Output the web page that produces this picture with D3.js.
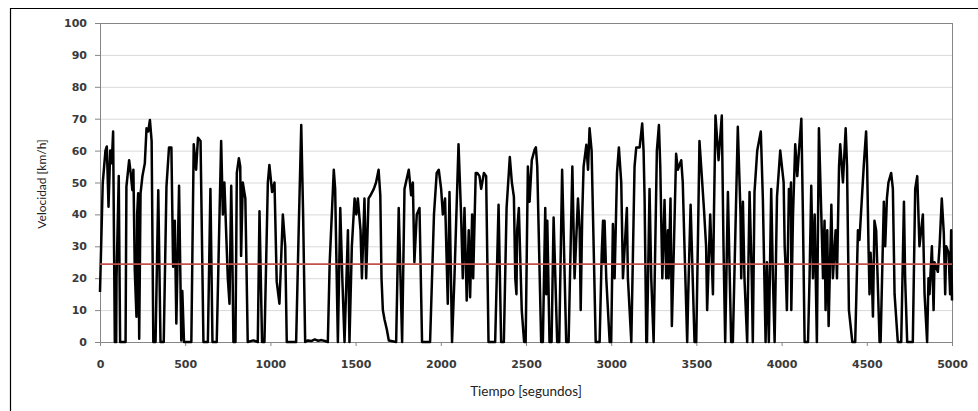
<!DOCTYPE html>
<html>
<head>
<meta charset="utf-8">
<script src="https://cdn.jsdelivr.net/npm/d3@7"></script>
<style>
  body { margin: 0; background: #fff; }
  svg { display: block; }
</style>
</head>
<body>
<div id="chart"></div>
<script>
// datos
const tiempo = [
  0,16,32,40,50,60,69,77,87,95,97,110,118,150,155,171,180,190,196,204,214,218,224,230,238,249,263,273,283,293,303,313,326,342,355,374,390,405,419,429,439,448,464,477,483,493,536,
  550,564,575,590,607,633,648,660,685,711,721,730,740,750,760,770,776,783,795,803,815,823,828,838,853,867,900,926,936,951,965,985,994,1010,1024,1037,1053,1073,1087,1096,
  1151,1166,1181,1192,1204,1220,1240,1260,1280,1300,1320,1337,1348,1372,1380,1396,1410,1422,1435,1455,1464,1478,1494,1504,1513,1529,1537,1552,1562,1576,1588,1607,1620,1635,
  1645,1652,1660,1670,1683,1695,1738,1753,1773,1787,1812,1826,1836,1845,1859,1875,1890,1937,1960,1976,1988,2002,2012,2025,2041,2051,2066,2080,2104,2119,2129,2139,2152,2164,2172,2184,2190,
  2205,2214,2227,2237,2253,2266,2280,2319,2339,2354,2370,2386,2405,2417,2429,2437,2444,2448,2458,2475,2489,2498,2511,2521,2534,2550,2558,2566,2589,2599,2613,2619,2625,2638,2650,2662,2683,2695,2712,2736,2750,
  2772,2785,2805,2815,2821,2830,2838,2854,2864,2873,2885,2909,2932,2944,2952,2957,2961,2971,2991,3000,3010,3020,3034,3045,3059,3069,3092,3098,3118,3137,3147,3167,3182,3190,3196,3206,3210,3225,3235,3249,3268,3280,3288,3300,
  3313,3323,3333,3337,3348,3356,3368,3381,3391,3411,3420,3430,3446,3452,3466,3489,3499,3509,3518,3528,3544,3557,3563,3581,3597,3603,3612,3630,3649,3659,3669,3685,3704,3714,3743,3759,3763,3773,3782,3798,3812,3825,3831,3841,3857,3878,
  3890,3906,3914,3925,3939,3949,3959,3973,3992,4008,4012,4018,4024,4031,4043,4050,4055,4057,4067,4080,4092,4102,4116,4125,4135,4155,4164,4174,4184,4194,4207,4219,4233,4243,4252,4258,4268,4276,4292,4301,4317,4325,4337,4344,4360,4376,4384,4395,4415,4432,
  4448,4457,4483,4496,4502,4510,4516,4522,4530,4536,4545,4555,4575,4581,4600,4608,4618,4627,4643,4653,4663,4682,4702,4718,4725,4737,4770,4784,4796,4809,4829,4839,4854,4862,4868,4882,4892,4897,4917,4927,4940,4952,4960,4966,4980,4989,4995,5000
];
const velocidad = [
  15.7,49.7,60,61.3,42.4,60,56,66,0,0,20,52,0,0,48.7,57,53,47.6,54,22.5,7.9,40,46.6,1,46.6,52,56,67,66,69.6,63,0,0,47.6,0,0,48.7,61,61,23.6,38,5.8,49,0.5,16,0,0,
  62,54,64,63,0,0,48,0,0,63,40,50,35,20,12,49,30,0,0,53,57.6,55,27,50,45,0,0.5,0,41,0,0,50,55.5,47,50,19,12,40,30,0,
  0,35,68,40,0,0.5,0.3,0.8,0.4,0.6,0.3,0,25,54,48,0,42,20,0,35,0,30,45,40,45,35,20,45,20,45,46,48,50,54,
  46,20,10,7,4,0.5,0,42,0,48,54,46,50,25,40,42,0,0,40,53,54,48,40,45,12,47,0,20,62,40,20,42,13,35,14,40,20,
  53,53,52,48,53,52,0,0,43,0,0,42,58,50,45.5,20,15,35,42,10,0,0,55,44,57,60.2,61,55,0,0,42,15,38,0,0,39,0,0,54,0,0,
  55,20,45,35,10,40,55,61.8,54,67,60,0,0,27,38,25,38,20,0,0,37,20,53,61,50,20,42,20,0,55,61,61,68.5,60,45,0,0,48,20,0,60,68,55,20,
  44.5,20,35,20,45,5,30,59,54,57,50,30,0,15,43,0,0,32,63,55,42,30,10,40,15,40,71,57,71,30,0,47,0,0,67.5,40,20,44,20,0,47,20,0,47,60,66,
  45,0,25,0,48,20,0,45.5,60,52,50,30,23,10,48,40,50,10,40,62,52,60,70,40,0,0,20,49,20,40,0,67,40,20,38,10,35,5,43,20,35,20,55,62,50,67,55,10,0,0,
  35,32,56,66,55,30,15,28,20,8,38,35,0,0,44,30,45,50,53,48,15,0,0,44,20,0,0,48,52,30,40,15,0,20,15,30,10,25,22,30,45,34,15,30,28,15,35,13
];
const promedio = 24.4;
const xTicks = [0,500,1000,1500,2000,2500,3000,3500,4000,4500,5000];
const yTicks = [0,10,20,30,40,50,60,70,80,90,100];

const W = 978, H = 411;
const margin = {left: 100, top: 23, right: 26, bottom: 69};
const iw = W - margin.left - margin.right;
const ih = H - margin.top - margin.bottom;

const svg = d3.select("#chart").append("svg")
  .attr("width", W).attr("height", H);

// marco exterior (solo arriba e izquierda visibles)
svg.append("path")
  .attr("d", `M10.5,${H} L10.5,8.5 L${W},8.5`)
  .attr("fill", "none")
  .attr("stroke", "#000")
  .attr("stroke-width", 1.2);

const g = svg.append("g").attr("transform", `translate(${margin.left},${margin.top})`);

const x = d3.scaleLinear().domain([0, 5000]).range([0, iw]);
const y = d3.scaleLinear().domain([0, 100]).range([ih, 0]);

// lineas de grilla
g.append("g")
  .selectAll("line")
  .data(yTicks.filter(d => d > 0 && d < 100))
  .enter().append("line")
  .attr("x1", 0).attr("x2", iw)
  .attr("y1", d => y(d) + 0.5).attr("y2", d => y(d) + 0.5)
  .attr("stroke", "#d9d9d9")
  .attr("stroke-width", 1);

// marco del area de trazado
g.append("rect")
  .attr("x", 0.5).attr("y", 0.5)
  .attr("width", iw).attr("height", ih)
  .attr("fill", "none")
  .attr("stroke", "#868686")
  .attr("stroke-width", 1);

const yAxis = g.append("g")
  .call(d3.axisLeft(y).tickValues(yTicks).tickSize(5).tickPadding(8));
const xAxis = g.append("g")
  .attr("transform", `translate(0,${ih})`)
  .call(d3.axisBottom(x).tickValues(xTicks).tickSize(4).tickPadding(14).tickFormat(d3.format("d")));

[yAxis, xAxis].forEach(a => {
  a.select(".domain").attr("stroke", "#868686");
  a.selectAll(".tick line").attr("stroke", "#868686");
  a.selectAll("text")
    .attr("fill", "#3a3a3a")
    .style("font-family", "'DejaVu Sans', Verdana, sans-serif")
    .style("font-weight", "bold")
    .style("font-size", "11px");
});

// serie de velocidad
const serie = tiempo.map((t, i) => ({t: t, v: velocidad[i]}));
const line = d3.line().x(d => x(d.t)).y(d => y(d.v));

g.append("path")
  .datum(serie)
  .attr("d", line)
  .attr("fill", "none")
  .attr("stroke", "#000")
  .attr("stroke-width", 2.5)
  .attr("stroke-linejoin", "round");

// velocidad promedio
g.append("line")
  .attr("x1", 0).attr("x2", iw)
  .attr("y1", y(promedio)).attr("y2", y(promedio))
  .attr("stroke", "#c0504d")
  .attr("stroke-width", 1.6);

// titulos de ejes
svg.append("text")
  .attr("x", margin.left + iw / 2)
  .attr("y", 396)
  .attr("text-anchor", "middle")
  .attr("fill", "#222")
  .style("font-family", "Lato, 'Open Sans', sans-serif")
  .style("font-size", "13.5px")
  .text("Tiempo [segundos]");

svg.append("text")
  .attr("transform", "translate(46,184) rotate(-90)")
  .attr("text-anchor", "middle")
  .attr("fill", "#222")
  .style("font-family", "Lato, 'Open Sans', sans-serif")
  .style("font-size", "12px")
  .text("Velocidad [km/h]");
</script>
</body>
</html>
